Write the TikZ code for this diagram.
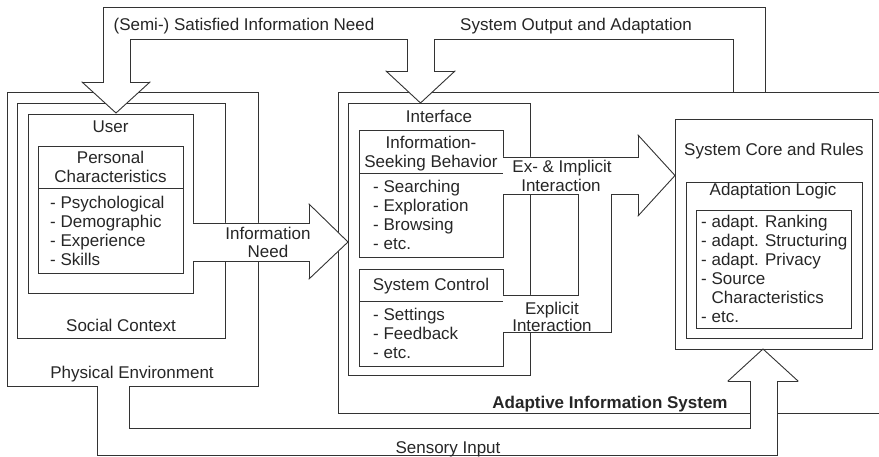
\documentclass[tikz,border=0pt]{standalone}
\usepackage{fontspec}
\setmainfont{Liberation Sans}
\begin{document}
\begin{tikzpicture}[x=1pt,y=-1pt,
  line/.style={draw=black!80, line width=0.9pt},
  box/.style={line},
  edge/.style={line, line cap=rect},
  lbl/.style={inner sep=0pt, anchor=base, text=black!85, font=\fontsize{17}{19}\selectfont},
  item/.style={lbl, anchor=base west},
]
\useasboundingbox (0,0) rectangle (879,457);

% nested context boxes around the user
\draw[box] (7,92) rectangle (258,386);
\draw[box] (17,103) rectangle (225,338);
\draw[box] (28,114) rectangle (193,293);
\draw[box] (38,146) rectangle (183,273);
\draw[box] (38,188) -- (183,188);

% adaptive information system (runs past the right edge)
\draw[box] (879,92) -- (338,92) -- (338,413) -- (879,413);
\draw[box] (348,103) rectangle (530,375);
\draw[box] (359,130) rectangle (503,257);
\draw[box] (359,173) -- (503,173);
\draw[box] (359,269) rectangle (503,366);
\draw[box] (359,301) -- (503,301);
\draw[box] (675,119) rectangle (872,349);
\draw[box] (686,182) rectangle (862,338);
\draw[box] (696,210) rectangle (851,328);

% block arrow: system output back to the interface and the user
\fill[white] (733,92) -- (733,39) -- (434,39) -- (434,71) -- (455,71) -- (420.5,103)
  -- (386,71) -- (407,71) -- (407,39) -- (130,39) -- (130,82) -- (150,82) -- (116,113)
  -- (82,82) -- (103,82) -- (103,7) -- (765,7) -- (765,92) -- cycle;
\draw[edge] (733,92) -- (733,39) -- (434,39) -- (434,71) -- (455,71);
\draw[edge] (455,71) -- (420.5,103) -- (386,71);
\draw[edge] (386,71) -- (407,71) -- (407,39) -- (130,39) -- (130,82) -- (150,82);
\draw[edge] (150,82) -- (116,113) -- (82,82);
\draw[edge] (82,82) -- (103,82) -- (103,7) -- (765,7) -- (765,92);

% block arrow: information need
\fill[white] (193,223) -- (309,223) -- (309,204) -- (348,242) -- (309,279)
  -- (309,261) -- (193,261) -- cycle;
\draw[edge] (193,223) -- (309,223) -- (309,204);
\draw[edge] (309,204) -- (348,242) -- (309,279);
\draw[edge] (309,279) -- (309,261) -- (193,261);

% block arrow: explicit and implicit interaction
\fill[white] (503,157) -- (638,157) -- (638,135) -- (675,175.5) -- (638,216)
  -- (638,194) -- (611,194) -- (611,332) -- (503,332) -- (503,295) -- (578,295)
  -- (578,194) -- (503,194) -- cycle;
\draw[edge] (503,157) -- (638,157) -- (638,135);
\draw[edge] (638,135) -- (675,175.5) -- (638,216);
\draw[edge] (638,216) -- (638,194) -- (611,194) -- (611,332) -- (503,332);
\draw[edge] (503,295) -- (578,295) -- (578,194) -- (503,194);

% block arrow: sensory input
\fill[white] (97,386) -- (97,455) -- (777,455) -- (777,381) -- (798,381)
  -- (763,349) -- (728,381) -- (750,381) -- (750,428) -- (129,428) -- (129,386) -- cycle;
\draw[edge] (97,386) -- (97,455) -- (777,455) -- (777,381) -- (798,381);
\draw[edge] (798,381) -- (763,349) -- (728,381);
\draw[edge] (728,381) -- (750,381) -- (750,428) -- (129,428) -- (129,386);

% labels
\node[lbl] (semi) at (244,31) {(Semi-) Satisfied Information Need};
\node[lbl] (sysout) at (576,31) {System Output and Adaptation};

\node[lbl] (user) at (110.5,133) {User};
\node[lbl] (pc1) at (110.5,164) {Personal};
\node[lbl] (pc2) at (110.5,183) {Characteristics};
\node[item] (pc3) at (50,209) {- Psychological};
\node[item] (pc4) at (50,228) {- Demographic};
\node[item] (pc5) at (50,247) {- Experience};
\node[item] (pc6) at (50,266) {- Skills};
\node[lbl] (social) at (121,331) {Social Context};
\node[lbl] (phys) at (132,378) {Physical Environment};

\node[lbl] (need1) at (268,240) {Information};
\node[lbl] (need2) at (268,258) {Need};

\node[lbl] (iface) at (439,123) {Interface};
\node[lbl] (isb1) at (431,149) {Information-};
\node[lbl] (isb2) at (431,168) {Seeking Behavior};
\node[item] (isb3) at (373,193) {- Searching};
\node[item] (isb4) at (373,212) {- Exploration};
\node[item] (isb5) at (373,231) {- Browsing};
\node[item] (isb6) at (373,250) {- etc.};
\node[lbl] (sc1) at (431,291) {System Control};
\node[item] (sc2) at (373,321) {- Settings};
\node[item] (sc3) at (373,340) {- Feedback};
\node[item] (sc4) at (373,359) {- etc.};

\node[lbl] (eii1) at (562,173) {Ex- \& Implicit};
\node[lbl] (eii2) at (561,192) {Interaction};
\node[lbl] (ei1) at (552,315) {Explicit};
\node[lbl] (ei2) at (552,331) {Interaction};

\node[lbl] (core) at (774,156) {System Core and Rules};
\node[lbl] (alog) at (773,196) {Adaptation Logic};
\node[item] (al1) at (701,228) {- adapt. Ranking};
\node[item] (al2) at (701,247) {- adapt. Structuring};
\node[item] (al3) at (701,266) {- adapt. Privacy};
\node[item] (al4) at (701,285) {- Source};
\node[item] (al5) at (701,304) {\phantom{- }Characteristics};
\node[item] (al6) at (701,323) {- etc.};

\node[lbl, font=\fontsize{17}{19}\selectfont\bfseries] (ais) at (610,408) {Adaptive Information System};
\node[lbl] (sens) at (448,453) {Sensory Input};
\end{tikzpicture}
\end{document}
